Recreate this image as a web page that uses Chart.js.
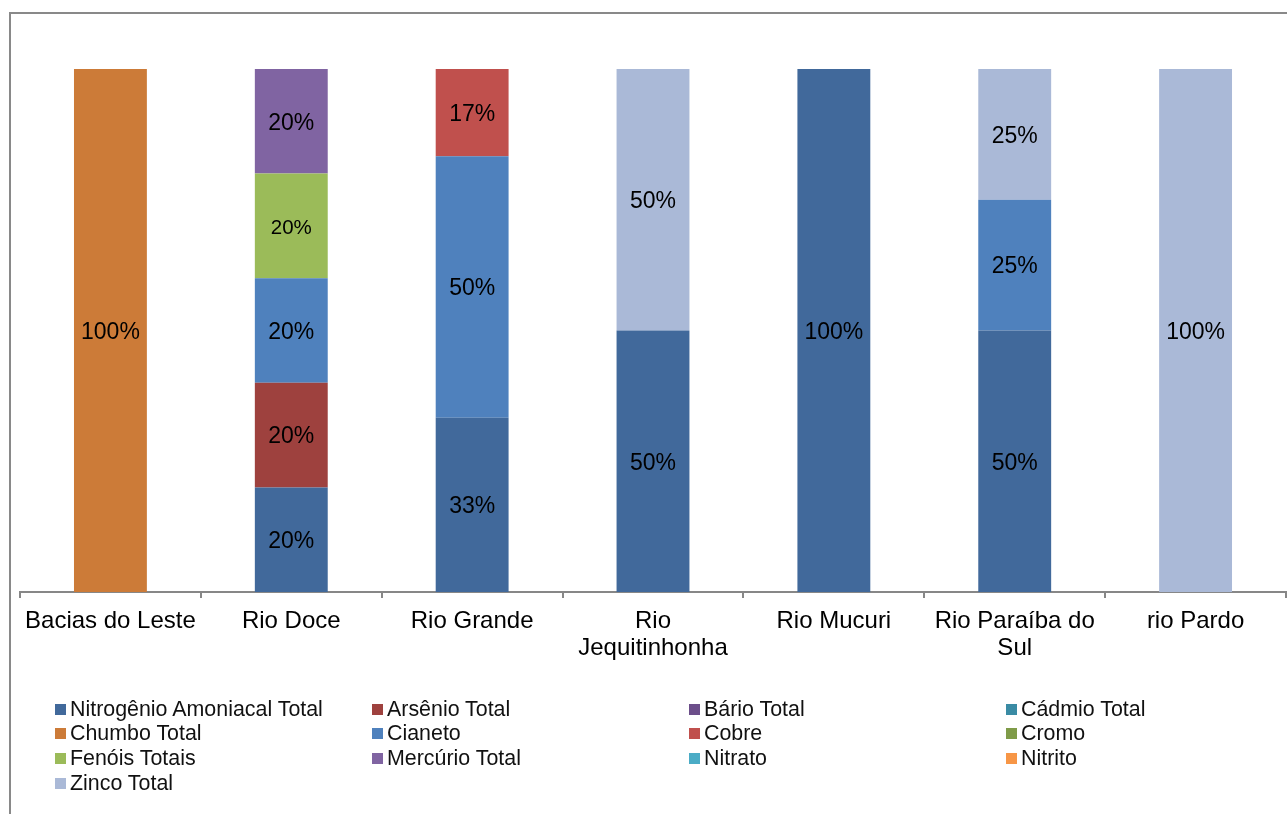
<!DOCTYPE html>
<html>
<head>
<meta charset="utf-8">
<script src="https://cdn.jsdelivr.net/npm/chart.js@4/dist/chart.umd.min.js"></script>
<style>
  html, body { margin: 0; padding: 0; background: #ffffff; }
  #wrap { position: relative; width: 1287px; height: 814px; overflow: hidden; }
  #frame { position: absolute; left: 9px; top: 12px; width: 1300px; height: 900px;
           border-left: 2px solid #898989; border-top: 2px solid #898989; box-sizing: border-box; }
  #c { position: absolute; left: 0; top: 0; }
  #legend { position: absolute; left: 55px; top: 697px; display: grid;
            grid-template-columns: repeat(4, 317px); grid-auto-rows: 24.6px;
            font-family: "Liberation Sans", Arial, sans-serif; font-size: 21.4px; color: #111; }
  .item { display: flex; align-items: center; white-space: nowrap; }
  .sw { width: 11px; height: 11px; margin-right: 4px; flex: 0 0 auto; }
</style>
</head>
<body>
<div id="wrap">
  <div id="frame"></div>
  <canvas id="c" width="1287" height="814"></canvas>
  <div id="legend"></div>
</div>
<script>
// ---- data ----
const categories = ["Bacias do Leste", "Rio Doce", "Rio Grande", ["Rio", "Jequitinhonha"], "Rio Mucuri", ["Rio Paraíba do", "Sul"], "rio Pardo"];
const seriesNames = ["Nitrogênio Amoniacal Total", "Arsênio Total", "Bário Total", "Cádmio Total", "Chumbo Total", "Cianeto", "Cobre", "Cromo", "Fenóis Totais", "Mercúrio Total", "Nitrato", "Nitrito", "Zinco Total"];
const nitrogenio = [0, 20, 33.3, 50, 100, 50, 0];
const arsenio    = [0, 20, 0, 0, 0, 0, 0];
const bario      = [0, 0, 0, 0, 0, 0, 0];
const cadmio     = [0, 0, 0, 0, 0, 0, 0];
const chumbo     = [100, 0, 0, 0, 0, 0, 0];
const cianeto    = [0, 20, 50, 0, 0, 25, 0];
const cobre      = [0, 0, 16.7, 0, 0, 0, 0];
const cromo      = [0, 0, 0, 0, 0, 0, 0];
const fenois     = [0, 20, 0, 0, 0, 0, 0];
const mercurio   = [0, 20, 0, 0, 0, 0, 0];
const nitrato    = [0, 0, 0, 0, 0, 0, 0];
const nitrito    = [0, 0, 0, 0, 0, 0, 0];
const zinco      = [0, 0, 0, 50, 0, 25, 100];
const seriesValues = [nitrogenio, arsenio, bario, cadmio, chumbo, cianeto, cobre, cromo, fenois, mercurio, nitrato, nitrito, zinco];

// ---- styles ----
const seriesColors = ["#41699B", "#9E413E", "#6C4E8A", "#3A8BA4", "#CC7B38", "#4F81BD", "#C0504D", "#7F9B48", "#9BBB59", "#8064A2", "#4BACC6", "#F79646", "#AAB9D7"];
const FONT = '"Liberation Sans", Arial, sans-serif';

const datasets = seriesNames.map((name, i) => ({
  label: name,
  data: seriesValues[i],
  backgroundColor: seriesColors[i],
  borderWidth: 0,
  barPercentage: 0.403,
  categoryPercentage: 1.0
}));

const labelPlugin = {
  id: 'segLabels',
  afterDatasetsDraw(chart) {
    const ctx = chart.ctx;
    ctx.save();
    ctx.fillStyle = '#000';
    ctx.textAlign = 'center';
    ctx.textBaseline = 'middle';
    chart.data.datasets.forEach((ds, di) => {
      const meta = chart.getDatasetMeta(di);
      ds.data.forEach((v, i) => {
        if (!v) return;
        const el = meta.data[i];
        const p = el.getCenterPoint();
        const size = (ds.label === "Fenóis Totais") ? 20.5 : 23;
        ctx.font = size + 'px ' + FONT;
        ctx.fillText(Math.round(v) + '%', p.x, p.y + 2);
      });
    });
    ctx.restore();
  }
};

new Chart(document.getElementById('c'), {
  type: 'bar',
  data: { labels: categories, datasets: datasets },
  options: {
    responsive: false,
    devicePixelRatio: 1,
    animation: false,
    layout: { padding: { top: 69, left: 20, right: 1, bottom: 0 } },
    plugins: { legend: { display: false }, tooltip: { enabled: false } },
    scales: {
      x: {
        stacked: true,
        afterFit: (s) => { s.height = 222; },
        grid: { offset: true, drawOnChartArea: false, drawTicks: true, tickLength: 6, color: '#878787', lineWidth: 2 },
        border: { display: true, color: '#878787', width: 2 },
        ticks: { color: '#000', font: { family: FONT, size: 24, lineHeight: 1.13 }, padding: 10, maxRotation: 0, minRotation: 0, autoSkip: false }
      },
      y: {
        stacked: true,
        display: false,
        min: 0,
        max: 100
      }
    }
  },
  plugins: [labelPlugin]
});

// HTML legend in 4 columns
const lg = document.getElementById('legend');
seriesNames.forEach((name, i) => {
  const it = document.createElement('div');
  it.className = 'item';
  const sw = document.createElement('span');
  sw.className = 'sw';
  sw.style.background = seriesColors[i];
  const tx = document.createElement('span');
  tx.textContent = name;
  it.appendChild(sw);
  it.appendChild(tx);
  lg.appendChild(it);
});
</script>
</body>
</html>
